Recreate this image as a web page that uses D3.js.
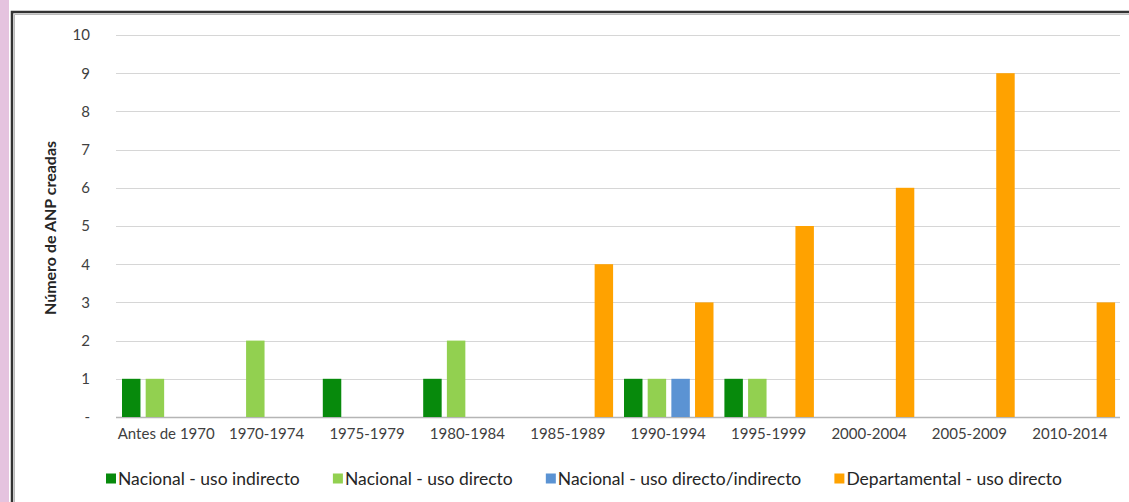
<!DOCTYPE html>
<html><head><meta charset="utf-8">
<script src="https://cdn.jsdelivr.net/npm/d3@7"></script>
<style>
html,body{margin:0;padding:0;background:#fff;}
svg{display:block;font-family:Lato,"Open Sans",sans-serif;}
</style></head>
<body>
<svg id="c" width="1129" height="502"></svg>
<script>
const categories = ["Antes de 1970","1970-1974","1975-1979","1980-1984","1985-1989","1990-1994","1995-1999","2000-2004","2005-2009","2010-2014"];
const seriesNames = ["Nacional - uso indirecto","Nacional - uso directo","Nacional - uso directo/indirecto","Departamental - uso directo"];
const nacionalIndirecto = [1,0,1,1,0,1,1,0,0,0];
const nacionalDirecto = [1,2,0,2,0,1,1,0,0,0];
const nacionalDirInd = [0,0,0,0,0,1,0,0,0,0];
const departamental = [0,0,0,0,4,3,5,6,9,3];
const yTicks = [0,1,2,3,4,5,6,7,8,9,10];
const colors = ["#078a0c","#92d050","#5b93d3","#ffa200"];

const seriesValues = [nacionalIndirecto,nacionalDirecto,nacionalDirInd,departamental];
const svg = d3.select("#c");

// page decorations
svg.append("rect").attr("x",0).attr("y",0).attr("width",9).attr("height",502).attr("fill","#e5c3df");
svg.append("path").attr("d","M12,502 V12 H1129").attr("fill","none").attr("stroke","#333").attr("stroke-width",2.5);
svg.append("path").attr("d","M14.5,502 V14.5 H1129").attr("fill","none").attr("stroke","#bbb").attr("stroke-width",1);

const x0 = d3.scaleBand().domain(categories).range([116,1120]).padding(0);
const x1 = d3.scaleBand().domain(d3.range(4)).range([6, 95.5]).paddingInner(0.22).paddingOuter(0);
const y = d3.scaleLinear().domain([0,10]).range([417,35]);

// gridlines
svg.append("g").selectAll("line").data(yTicks).join("line")
  .attr("x1",116).attr("x2",1120)
  .attr("y1",d=>Math.round(y(d))+0.5).attr("y2",d=>Math.round(y(d))+0.5)
  .attr("stroke",d=>d===0?"#b5b5b5":"#d6d6d6").attr("stroke-width",d=>d===0?1.5:1.2);

// y axis labels
const yAxis = d3.axisLeft(y).tickValues(yTicks).tickSize(0).tickPadding(0)
  .tickFormat(d=>d===0?"-":d);
const ya = svg.append("g").attr("transform","translate(90,0)").call(yAxis);
ya.select(".domain").remove();
ya.selectAll("text").attr("font-size",15).attr("fill","#404040").attr("font-family","Lato,sans-serif");

// x axis labels
const xAxis = d3.axisBottom(x0).tickSize(0).tickPadding(0);
const xa = svg.append("g").attr("transform","translate(0,428)").call(xAxis);
xa.select(".domain").remove();
xa.selectAll("text").attr("font-size",15).attr("fill","#404040").attr("font-family","Lato,sans-serif").attr("dy","0.71em");

// bars
const groups = svg.append("g").selectAll("g").data(categories).join("g")
  .attr("transform",d=>`translate(${x0(d)},0)`);
groups.selectAll("rect").data((d,i)=>seriesValues.map((s,k)=>({k,v:s[i]})).filter(o=>o.v>0)).join("rect")
  .attr("x",d=>x1(d.k)).attr("width",x1.bandwidth())
  .attr("y",d=>y(d.v)).attr("height",d=>y(0)-y(d.v))
  .attr("fill",d=>colors[d.k]);

// y title
svg.append("text").attr("transform","translate(50,228) rotate(-90)")
  .attr("text-anchor","middle").attr("dy","0.35em").attr("font-size",16).attr("font-weight","bold").attr("fill","#262626")
  .text("Número de ANP creadas");

// legend: equal gaps between items spanning from legStart to legEnd
const legStart = 106, legEnd = 1062, sw = 10, tgap = 2;
const leg = svg.append("g").selectAll("g").data(seriesNames).join("g");
leg.append("rect").attr("x",0).attr("y",-5.5).attr("width",sw).attr("height",sw).attr("fill",(d,i)=>colors[i]);
leg.append("text").attr("x",sw+tgap).attr("y",0).attr("dy","0.35em").attr("font-size",17.5).attr("fill","#262626").text(d=>d);
const widths = [];
leg.each(function(){ widths.push(sw+tgap+d3.select(this).select("text").node().getComputedTextLength()); });
const gap = (legEnd-legStart-d3.sum(widths))/(widths.length-1);
let cx = legStart;
leg.each(function(d,i){ d3.select(this).attr("transform",`translate(${cx},479)`); cx += widths[i]+gap; });
</script>
</body></html>
